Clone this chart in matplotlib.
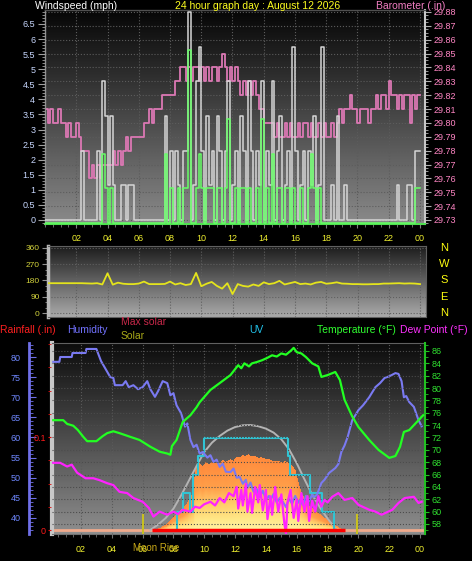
import numpy as np
import matplotlib
matplotlib.use("Agg")
import matplotlib.pyplot as plt
import matplotlib.transforms as mtransforms
from matplotlib.colors import LinearSegmentedColormap
from matplotlib.ticker import MultipleLocator, FixedLocator, FormatStrFormatter

W, H = 472, 561
plt.rcParams['font.family'] = ['Liberation Sans', 'DejaVu Sans']

# ---------------- top panel: wind speed + barometer (10 minute samples) ----------------
wind_unit = 1.15          # mph per step of the anemometer
gust_lvl = [0,0,0,0,0,0,0,0,0,0,0,0,
            0,0,2,0,0,0,0,0,2,0,4,3,
            1,3,1,0,0,1,1,0,1,1,0,0,
            0,0,0,0,0,0,0,0,0,0,3,0,
            2,0,2,1,0,2,2,6,0,1,4,5,
            2,0,3,1,2,0,3,2,0,2,4,0,
            1,2,0,3,2,0,4,2,0,2,1,4,
            0,2,1,4,0,2,3,0,1,2,0,5,
            2,0,1,2,0,2,1,3,0,1,5,0,
            0,0,1,0,3,0,0,1,0,0,0,0,
            0,0,0,0,0,0,0,0,0,0,0,0,
            0,0,0,1,0,0,0,1,1,0,2,2]
avg_lvl = [0,0,0,0,0,0,0,0,0,0,0,0,
           0,0,0,0,0,0,0,0,0,0,2,1,
           0,1,0,0,0,0,0,0,0,0,0,0,
           0,0,0,0,0,0,0,0,0,0,2,0,
           1,0,0,1,0,1,1,5,0,0,1,2,
           1,0,1,1,1,0,1,1,0,1,3,0,
           0,1,0,1,1,0,1,0,0,1,0,3,
           0,1,0,2,0,1,1,0,1,1,0,1,
           0,0,1,0,0,1,2,1,0,1,0,0,
           0,0,0,0,0,0,0,0,0,0,0,0,
           0,0,0,0,0,0,0,0,0,0,0,0,
           0,0,0,0,0,0,0,0,0,0,1,1]
baro_base = 29.73
baro_lvl = [8,7,8,7,7,8,7,7,6,7,6,6,
            7,6,5,5,5,3,4,3,4,3,4,4,
            4,4,5,4,5,4,5,6,5,6,6,6,
            6,6,7,7,8,7,8,8,8,9,9,9,
            9,9,10,10,11,11,10,11,10,11,11,10,
            11,10,11,10,11,11,10,11,12,11,10,11,
            10,11,10,9,10,9,10,9,10,9,8,8,
            7,7,7,7,6,7,6,6,7,6,7,6,
            6,7,6,7,7,6,7,6,6,7,6,7,
            6,6,7,6,7,8,7,8,8,9,8,8,
            7,8,8,8,7,8,8,9,8,9,9,8,
            10,9,9,8,9,8,9,9,7,9,8,9]

# ---------------- wind direction (every 20 minutes) ----------------
wdir = [165,165,165,165,165,165,165,165,164,
        163,165,158,220,157,168,162,160,160,163,
        174,160,160,160,161,174,158,165,155,160,
        222,148,162,172,150,135,165,105,160,150,
        146,158,150,170,160,165,178,158,165,172,
        160,163,158,168,172,162,165,170,163,162,
        160,160,159,159,160,160,163,163,164,165,
        163,164,163,160]

# ---------------- bottom panel ----------------
hum_t = [0.2,0.6,0.65,1.4,1.45,2.3,2.35,3.0,3.1,3.3,3.6,3.9,4.1,4.2,4.7,4.9,5.1,5.4,5.7,6.0,
         6.3,6.5,6.8,7.0,7.3,7.6,7.8,8.0,8.2,8.5,8.75,8.9,9.1,9.3,9.5,9.7,9.9,10.2,10.4,10.6,
         10.8,11.0,11.2,11.4,11.7,11.9,12.1,12.3,12.5,12.7,12.8,13.0,13.2,13.4,13.6,13.8,14.0,14.2,14.3,14.5,
         14.7,14.9,15.1,15.3,15.5,15.7,15.9,16.1,16.2,16.4,16.6,16.8,17.0,17.1,17.3,17.6,17.8,18.1,18.3,18.5,
         18.7,18.9,19.1,19.3,19.6,20.0,20.3,20.7,21.1,21.4,21.7,22.0,22.4,22.6,22.8,22.95,23.1,23.3,23.6,23.9,24.1]
hum_v = [78.8,78.8,80,80,81,81,82,82,81,79,77,75,74.8,73,73,74,72.5,73,72,72.5,
         74,72,70.1,71.5,74,73.5,70.5,71,68,66,62.7,63.5,59.4,57.6,58.2,56,56.4,55,55.6,53.9,
         54.5,52.7,53.5,51.5,51.4,52.3,50,50.2,48.5,49.5,47.5,48.8,46.5,47.2,45.2,46.8,44.5,45.5,44.5,46,
         43.8,45,44,42.7,44.8,43.5,45.5,43.8,44.5,43.2,45.5,44.2,45.8,45.2,45.7,48.7,49.5,51.2,51.8,52.4,
         53.4,56.5,58,60.1,64.3,66.8,68,70,72.5,73.5,74.8,75.2,76,75.8,74,70,70.3,68.8,67.6,64.3,62.8]

temp_t = [0.2,0.85,1.1,1.5,1.8,2.15,2.4,3.0,3.4,3.7,4.1,4.5,5.2,5.8,6.5,7.1,7.6,7.8,7.9,8.2,
          8.6,9.1,9.5,9.7,10.4,11.0,11.7,12.2,12.4,12.6,12.9,13.1,13.4,13.75,14.1,14.4,14.7,15.0,15.3,15.6,
          15.8,16.0,16.3,16.6,17.0,17.4,17.6,18.0,18.5,18.8,19.1,19.6,20.0,20.7,21.3,22.0,22.4,22.7,22.95,23.3,
          23.6,23.9,24.2]
temp_v = [74.8,74.8,74.2,73.9,73.2,72.1,71.4,71.4,72.2,72.7,73,72.7,72.1,71.6,70.5,69.7,69.4,69.2,70.6,71.6,
          74.5,75.6,76.9,77.7,79.7,80.8,82.1,83.7,83.2,84,83.5,84,84.2,84.5,84.9,85.3,85.1,85.6,85.4,86,
          86.5,85.8,85.6,85,84,83.5,81.8,82.1,82.6,81.3,78.1,75.4,73.7,71.6,70,68.7,69,70.5,72.9,73.2,
          74,74.8,75.6]

dew_t = [0.2,0.65,1.1,1.4,1.75,2.3,2.8,3.2,3.7,4.1,4.5,5.0,5.4,6.0,6.4,6.7,7.1,7.6,8.0,8.3,
         8.6,9.1,9.4,9.7,10.0,10.4,10.7,11.0,11.3,11.6,11.9,12.1,12.2,12.4,12.5,12.7,12.8,13.0,13.1,13.3,
         13.5,13.6,13.8,14.0,14.1,14.3,14.4,14.6,14.8,15.0,15.2,15.3,15.4,15.6,15.8,16.0,16.1,16.3,16.5,16.7,
         16.8,17.0,17.2,17.4,17.6,17.8,18.0,18.3,18.7,19.1,19.6,20.0,20.7,21.1,21.5,22.2,22.6,23.0,23.6,23.9,
         24.1]
dew_v = [67.9,67.9,67.3,67.6,66.3,65.4,65.4,65.1,64.6,64.3,63.2,63,62.2,61.6,60.6,59.2,60,59.5,60,59.6,
         60.3,60,60.8,60.6,61.2,61.6,61,62.2,61.5,63,62.5,64,60.5,63.5,61,64.5,60,63,59.8,64,
         61.5,64.3,60.2,63.5,58.8,62.5,59.5,64,60,62.8,58,56.5,61.5,63.5,59,62,58.5,63,60,62.5,
         58.5,61.8,60,62.5,60.8,61.9,61.5,62.4,63,61.9,62.2,61.1,60.3,60,59.5,60.3,61.4,62.2,62.4,61.4,
         61.6]

sol_t = [6.6,7.0,7.5,8.0,8.3,8.6,8.9,9.1,9.3,9.4,9.6,9.7,9.9,10.1,10.3,10.5,10.7,11.0,11.2,11.4,
         11.7,11.9,12.1,12.3,12.5,12.7,12.85,13.0,13.3,13.5,13.7,14.0,14.2,14.5,14.7,15.0,15.3,15.5,15.7,15.9,
         16.05,16.2,16.4,16.6,17.0,17.4,18.0,18.6,19.0]
sol_v = [0,10,37,97,130,165,200,247,300,450,480,500,470,505,487,510,495,500,520,505,
         525,515,545,540,555,548,565,550,547,535,540,525,530,510,515,505,510,495,480,450,
         380,322,260,202,160,127,75,30,0]

maxsol_t = [6.5,7.0,7.5,8.0,8.5,9.0,9.5,10.0,10.5,11.0,11.5,12.0,12.5,13.0,13.5,14.0,14.5,15.0,15.5,16.0,
            16.5,17.0,17.5,18.0,18.6]
maxsol_v = [0,40,90,160,260,370,480,585,655,705,745,772,785,787,778,760,730,680,605,500,
            380,265,170,85,0]

uv_t = [8.2,8.2,8.6,9.1,9.3,9.6,10.0,15.4,15.55,16.85,17.65,18.4]
uv_v = [0,1,2,1,3,4,5,4,3,2,1,0]

rain_t = [6.6, 19.1]
rain_v = [0.0, 0.0]
moon_t = [6.0, 19.9]

tick_hours = list(range(2, 25, 2))
tick_names = ['02','04','06','08','10','12','14','16','18','20','22','00']


def px_rect(x0, y0, x1, y1):
    return [x0 / W, 1 - y1 / H, (x1 - x0) / W, (y1 - y0) / H]


def shade(ax, top, bottom):
    cmap = LinearSegmentedColormap.from_list('bg', [bottom, top])
    ax.imshow(np.linspace(0, 1, 200).reshape(-1, 1), cmap=cmap, origin='lower',
              extent=[0, 1, 0, 1], transform=ax.transAxes, aspect='auto', zorder=0)


def ftext(x, y, s, color, size=7.5, **kw):
    fig.text(x / W, 1 - y / H, s, color=color, fontsize=size, va='center', **kw)


fig = plt.figure(figsize=(W / 100, H / 100), dpi=100, facecolor='black')
slot_t = np.arange(len(gust_lvl) + 1) / 6.0

# ======================= top panel =======================
ax_p = fig.add_axes(px_rect(45, 10, 425, 224))
shade(ax_p, '#060606', '#8a8a8a')
baro = baro_base + np.array(baro_lvl + [baro_lvl[-1]]) / 100.0
ax_p.step(slot_t, baro, where='post', color='#dc78b4', lw=1.3, zorder=2)
ax_p.set_xlim(0, 24.32)
ax_p.set_ylim(29.7271, 29.8814)
ax_p.xaxis.set_major_locator(FixedLocator(tick_hours))
ax_p.xaxis.set_minor_locator(MultipleLocator(0.5))
ax_p.set_xticklabels(tick_names)
ax_p.tick_params(axis='x', which='both', colors='#808080', labelcolor='#f0f030',
                 labelsize=6.5, length=3, pad=4)
ax_p.tick_params(axis='x', which='minor', length=2)
ax_p.grid(True, which='major', ls=':', color='#5c5c5c', lw=0.8)
for side, col, lw in [('left', '#909090', 1), ('right', '#c8c8c8', 1.5),
                      ('top', '#505050', 1), ('bottom', '#50e050', 1.5)]:
    ax_p.spines[side].set_color(col)
    ax_p.spines[side].set_linewidth(lw)

ax_w = ax_p.twinx()
# twinx moves the base ticks to the left, so put the barometer back on the right
ax_p.yaxis.tick_right()
ax_p.yaxis.set_major_locator(MultipleLocator(0.01))
ax_p.yaxis.set_minor_locator(MultipleLocator(0.0025))
ax_p.yaxis.set_major_formatter(FormatStrFormatter('%.2f'))
ax_p.tick_params(axis='y', which='both', colors='#b0b0b0', labelcolor='#ff86c4',
                 labelsize=6.5, pad=2)
ax_p.tick_params(axis='y', which='major', length=4)
ax_p.tick_params(axis='y', which='minor', length=2)

ax_w.yaxis.tick_left()
ax_w.set_ylim(-0.133, 6.964)
gust = np.array(gust_lvl + [gust_lvl[-1]]) * wind_unit
avg = np.array(avg_lvl + [avg_lvl[-1]]) * wind_unit
ax_w.step(slot_t, gust, where='post', color='#d6d6d6', lw=1.1, zorder=3)
low = mtransforms.offset_copy(ax_w.transData, fig=fig, x=0, y=-3, units='dots')
ax_w.step(slot_t, avg, where='post', color='#66ff66', lw=1.1, zorder=4, transform=low)
ax_w.yaxis.set_major_locator(MultipleLocator(0.5))
ax_w.yaxis.set_minor_locator(MultipleLocator(0.1))
ax_w.yaxis.set_major_formatter(FormatStrFormatter('%g'))
ax_w.tick_params(axis='y', which='both', colors='#a0a0a0', labelcolor='#c8d8ff',
                 labelsize=6.5, pad=2)
ax_w.tick_params(axis='y', which='major', length=5)
ax_w.tick_params(axis='y', which='minor', length=2.5)
for s in ax_w.spines.values():
    s.set_visible(False)

ftext(35, 6, 'Windspeed (mph)', 'white')
ftext(175, 6, '24 hour graph day : August 12 2026', '#ffff20')
ftext(376, 6, 'Barometer (.in)', '#f27ec2')

# ======================= wind direction =======================
ax_d = fig.add_axes(px_rect(48, 246, 426, 317))
shade(ax_d, '#1c1c1c', '#aaaaaa')
dir_t = np.arange(len(wdir)) / 3.0
ax_d.plot(dir_t, wdir, color='#e4e41c', lw=1.3, zorder=3)
ax_d.set_xlim(0.19, 24.38)
ax_d.set_ylim(-22.1, 371)
ax_d.set_yticks([0, 90, 180, 270, 360])
ax_d.yaxis.set_minor_locator(MultipleLocator(30))
ax_d.set_xticks(tick_hours)
ax_d.tick_params(axis='x', length=0, labelbottom=False)
ax_d.tick_params(axis='y', which='both', colors='#909090', labelcolor='#d2d23c',
                 labelsize=6, pad=2)
ax_d.tick_params(axis='y', which='major', length=4)
ax_d.tick_params(axis='y', which='minor', length=2)
ax_d.grid(True, ls=':', color='#606060', lw=0.8)
for side in ['top', 'bottom', 'right']:
    ax_d.spines[side].set_color('#606060')
ax_d.spines['left'].set_color('#b8b8b8')
ax_d.spines['left'].set_linewidth(2.5)
side_tr = mtransforms.blended_transform_factory(ax_d.transAxes, ax_d.transData)
for deg, letter in zip([360, 270, 180, 90, 0], ['N', 'W', 'S', 'E', 'N']):
    ax_d.text(1.048, deg, letter, transform=side_tr, color='#ffff10', fontsize=8,
              ha='center', va='center')

# ======================= bottom panel =======================
ax_s = fig.add_axes(px_rect(52, 343, 425, 534))
shade(ax_s, '#0c0c0c', '#8e8e8e')
x_lo, x_hi = 0.12, 24.32
sol_cmap = LinearSegmentedColormap.from_list(
    'sol', [(0.0, '#fff2a4'), (0.15, '#ffe888'), (0.35, '#ffd06c'),
            (0.5, '#ffb85c'), (0.62, '#ffa04a'), (1.0, '#ff8a3c')])
xs = np.linspace(x_lo, x_hi, 700)
vs = np.linspace(0, 600, 300)
top_edge = np.interp(xs, sol_t, sol_v, left=0, right=0)
frac = vs[:, None] / np.maximum(top_edge[None, :], 1e-6)
rgba = sol_cmap(np.clip(frac, 0, 1))
rgba[..., 3] = np.where(frac <= 1, 1.0, 0.0)
ax_s.imshow(rgba, origin='lower', extent=[x_lo, x_hi, 0, 600], aspect='auto',
            interpolation='nearest', zorder=2)
ax_s.axhline(0, color='#f0aa8c', lw=2, zorder=2.5)
ax_s.plot(maxsol_t, maxsol_v, color='#b4b4b4', lw=1.4, zorder=3)
ax_s.set_xlim(x_lo, x_hi)
ax_s.set_ylim(-30, 1402)
ax_s.xaxis.set_major_locator(FixedLocator(tick_hours))
ax_s.xaxis.set_minor_locator(MultipleLocator(0.5))
ax_s.set_xticklabels(tick_names)
ax_s.tick_params(axis='x', which='both', colors='#707070', labelcolor='#f0f030',
                 labelsize=6.5, length=3, pad=5)
ax_s.tick_params(axis='x', which='minor', length=2)
ax_s.grid(True, axis='x', ls=':', color='#5a5a5a', lw=0.8)
ax_s.spines['left'].set_color('#c8c8c8')
ax_s.spines['left'].set_linewidth(3)
ax_s.spines['bottom'].set_color('#707070')
ax_s.spines['top'].set_color('#606060')
ax_s.spines['right'].set_visible(False)

ax_uv = ax_s.twinx()
ax_uv.step(uv_t, uv_v, where='post', color='#30c4d4', lw=1.5, zorder=3)
ax_uv.set_ylim(-0.217, 10.16)
ax_uv.set_yticks([])
for s in ax_uv.spines.values():
    s.set_visible(False)

ax_h = ax_s.twinx()
ax_h.plot(hum_t, hum_v, color='#7a7af2', lw=1.5, zorder=3)
ax_h.set_ylim(36.02, 83.48)
ax_h.yaxis.set_ticks_position('left')
ax_h.yaxis.set_major_locator(MultipleLocator(5))
ax_h.yaxis.set_minor_locator(MultipleLocator(1))
ax_h.tick_params(axis='y', which='both', direction='in', colors='#7070e8',
                 labelcolor='#6f88ff', labelsize=6.5, pad=6)
ax_h.tick_params(axis='y', which='major', length=5)
ax_h.tick_params(axis='y', which='minor', length=3)
for s in ax_h.spines.values():
    s.set_visible(False)
ax_h.spines['left'].set_visible(True)
ax_h.spines['left'].set_position(('axes', -0.0617))
ax_h.spines['left'].set_color('#7070e8')
ax_h.spines['left'].set_linewidth(2)

ax_t = ax_s.twinx()
ax_t.plot(temp_t, temp_v, color='#22ff22', lw=1.6, zorder=3)
ax_t.plot(dew_t, dew_v, color='#ff22ff', lw=1.6, zorder=4)
ax_t.set_ylim(56.38, 87.29)
ax_t.yaxis.tick_right()
ax_t.yaxis.set_major_locator(MultipleLocator(2))
ax_t.yaxis.set_minor_locator(MultipleLocator(1))
ax_t.tick_params(axis='y', which='both', colors='#20c020', labelcolor='#30e030',
                 labelsize=6.5, pad=2)
ax_t.tick_params(axis='y', which='major', length=3)
ax_t.tick_params(axis='y', which='minor', length=2)
ax_t.grid(True, axis='y', ls=':', color='#4c4c4c', lw=0.8)
for s in ax_t.spines.values():
    s.set_visible(False)
ax_t.spines['right'].set_visible(True)
ax_t.spines['right'].set_color('#22c022')
ax_t.spines['right'].set_linewidth(1.5)

ax_r = ax_s.twinx()
ax_r.plot(rain_t, rain_v, color='#ff0000', lw=2.5, zorder=5, solid_capstyle='butt')
for mt in moon_t:
    ax_r.axvline(mt, ymin=0, ymax=0.1, color='#c8c020', lw=1.5, zorder=5)
ax_r.set_ylim(-0.0043, 0.2011)
ax_r.yaxis.set_ticks_position('left')
ax_r.set_yticks([0, 0.1])
ax_r.set_yticklabels(['0', '0.1'])
ax_r.yaxis.set_minor_locator(MultipleLocator(0.025))
ax_r.tick_params(axis='y', which='both', colors='#e01010', labelcolor='#ff1a1a',
                 labelsize=6.5, length=2.5, pad=1)
for s in ax_r.spines.values():
    s.set_visible(False)
ax_r.spines['left'].set_position(('axes', -0.004))

# the base axes carries no y scale of its own
ax_s.set_yticks([])

ftext(0, 330, 'Rainfall (.in)', '#ff2020')
ftext(67, 330, 'Humidity', '#7272ff')
ftext(121, 322, 'Max solar', '#c8284a')
ftext(121, 336, 'Solar', '#a8a818')
ftext(249, 330, 'UV', '#22c2ea')
ftext(317, 330, 'Temperature (\u00b0F)', '#30ff30')
ftext(400, 330, 'Dew Point (\u00b0F)', '#ff30ff')
ftext(133, 548, 'Moon Rise', '#c8a818', size=7)

fig.savefig('out.png', dpi=100, facecolor='black')
